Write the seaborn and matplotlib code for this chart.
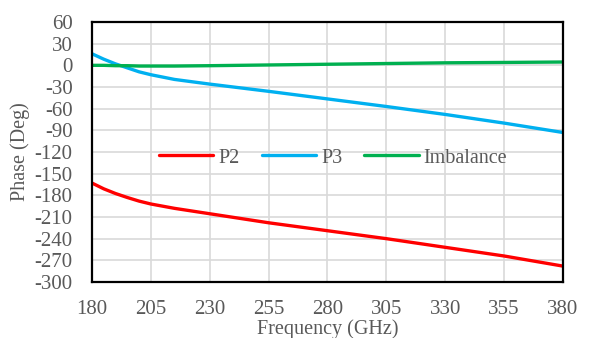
import pandas as pd
import seaborn as sns
import matplotlib.pyplot as plt

# Datos
freq = [180, 185, 190, 195, 200, 205, 215, 230, 255, 280, 305, 330, 355, 380]
p2 = [-163, -171, -177.5, -183, -188, -192, -198, -205.5, -218, -229, -240, -252, -264, -278]
p3 = [16, 8.5, 2, -3.5, -9, -13, -19.5, -26, -36, -46.5, -57, -68, -80, -93]
imbalance = [0, 0, -0.5, -0.5, -1, -1, -1, -0.5, 0.5, 1.5, 2.5, 3.5, 4, 4.6]

colores = {'P2': '#FF0000', 'P3': '#00B0F0', 'Imbalance': '#00B050'}

datos = pd.DataFrame({
    'freq': freq * 3,
    'fase': p2 + p3 + imbalance,
    'serie': ['P2'] * len(freq) + ['P3'] * len(freq) + ['Imbalance'] * len(freq),
})

sns.set_style('white')
plt.rcParams['font.family'] = ['Liberation Serif', 'DejaVu Serif']
plt.rcParams['axes.unicode_minus'] = False
gris = '#595959'

fig = plt.figure(figsize=(5.91, 3.38), dpi=100)
ax = fig.add_axes([92 / 591, 1 - 282 / 338, 471 / 591, 260 / 338])

sns.lineplot(data=datos, x='freq', y='fase', hue='serie', palette=colores,
             hue_order=['P2', 'P3', 'Imbalance'], linewidth=2.4, ax=ax)

ax.set_xlim(180, 380)
ax.set_ylim(-300, 60)
ax.set_xticks(range(180, 381, 25))
ax.set_yticks(range(-300, 61, 30))
ax.grid(True, color='#d9d9d9', linewidth=1.2)
ax.set_axisbelow(True)
for s in ax.spines.values():
    s.set_color('black')
    s.set_linewidth(1.6)
ax.tick_params(axis='both', length=0, labelsize=15, labelcolor=gris)
ax.tick_params(axis='x', pad=13)
ax.tick_params(axis='y', pad=14)

ax.set_xlabel('Frequency (GHz)', fontsize=14.5, color=gris, labelpad=0)
ax.set_ylabel('Phase (Deg)', fontsize=14.5, color=gris, labelpad=3)

ax.legend(loc='center', bbox_to_anchor=(0.512, 0.477), ncol=3, frameon=False,
          fontsize=14.5, handlelength=2.7, handletextpad=0.25, columnspacing=1.1,
          labelcolor=gris)

plt.savefig('out.png', dpi=100)
plt.close()
